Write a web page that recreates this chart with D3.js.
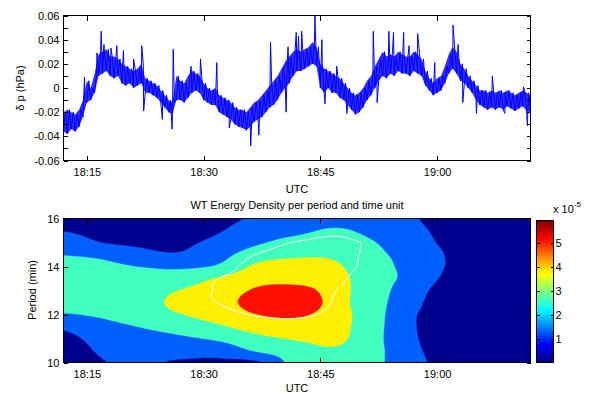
<!DOCTYPE html>
<html>
<head>
<meta charset="utf-8">
<script src="https://cdn.jsdelivr.net/npm/d3@7"></script>
<style>
  html, body { margin: 0; padding: 0; background: #fff; }
  svg { display: block; font-family: "Liberation Sans", Arial, Helvetica, sans-serif; }
</style>
</head>
<body>
<svg id="chart" width="591" height="394"></svg>
<script>
// ---- Pressure perturbation record (hPa) ----
const startTime = "18:12";
const endTime = "19:12";
const sampleStepMin = 0.5;           // envelope sampled every half minute
// lower and upper edge of the fluctuating trace in each half-minute bin
const pressureLow = [
  -0.036,-0.038,-0.034,-0.036,-0.032,-0.024,-0.012,-0.010,-0.004, 0.010,
   0.012, 0.014, 0.010, 0.008, 0.010, 0.004, 0.002, 0.004, 0.000, 0.002,
   0.004,-0.004,-0.004,-0.006,-0.008,-0.012,-0.016,-0.020,-0.022,-0.010,
  -0.010,-0.012,-0.008,-0.004,-0.002,-0.004,-0.010,-0.012,-0.014,-0.014,
  -0.020,-0.022,-0.024,-0.026,-0.030,-0.032,-0.033,-0.035,-0.032,-0.028,
  -0.026,-0.024,-0.020,-0.016,-0.014,-0.010,-0.004, 0.000, 0.004, 0.010,
   0.014, 0.014, 0.016, 0.018, 0.020, 0.018, 0.000,-0.004, 0.000,-0.004,
  -0.004,-0.008,-0.010,-0.014,-0.018,-0.022,-0.020,-0.016,-0.010,-0.006,
   0.000, 0.006, 0.010, 0.008, 0.012, 0.010, 0.014, 0.012, 0.012, 0.010,
   0.014, 0.012, 0.010, 0.002,-0.002,-0.006,-0.004,-0.002, 0.004, 0.012,
   0.016, 0.012, 0.006, 0.004, 0.000,-0.004,-0.010,-0.014,-0.016,-0.018,
  -0.016,-0.018,-0.016,-0.018,-0.015,-0.017,-0.019,-0.017,-0.015,-0.019,
  -0.020
];
const pressureHigh = [
  -0.020,-0.018,-0.020,-0.022,-0.018,-0.010, 0.006, 0.000, 0.012, 0.028,
   0.030, 0.032, 0.026, 0.026, 0.024, 0.020, 0.018, 0.016, 0.014, 0.016,
   0.020, 0.008, 0.006, 0.004, 0.002,-0.002,-0.006,-0.010,-0.012, 0.010,
   0.006, 0.004, 0.010, 0.014, 0.012, 0.010, 0.004, 0.000,-0.002, 0.000,
  -0.006,-0.008,-0.010,-0.012,-0.016,-0.018,-0.018,-0.020,-0.016,-0.012,
  -0.010,-0.006,-0.002, 0.002, 0.006, 0.010, 0.016, 0.022, 0.026, 0.030,
   0.032, 0.030, 0.032, 0.034, 0.038, 0.034, 0.020, 0.016, 0.014, 0.012,
   0.010, 0.008, 0.004, 0.000,-0.004,-0.006,-0.004, 0.000, 0.006, 0.010,
   0.018, 0.024, 0.030, 0.026, 0.028, 0.026, 0.030, 0.028, 0.026, 0.026,
   0.030, 0.028, 0.024, 0.014, 0.008, 0.004, 0.008, 0.010, 0.018, 0.028,
   0.034, 0.030, 0.020, 0.016, 0.010, 0.006, 0.002,-0.002,-0.002,-0.004,
  -0.002,-0.004,-0.002,-0.004,-0.002,-0.004,-0.006,-0.004,-0.002,-0.004,
  -0.006
];
// isolated spikes: [minutes after start, hPa]
const pressureSpikes = [
  [2.7, 0.009], [4.3, 0.029], [4.85, 0.047], [5.2, 0.036], [6.1, 0.033],
  [6.85, 0.035], [7.7, 0.031], [9.0, 0.024], [10.05, 0.035], [10.3, -0.019],
  [12.7, -0.026], [13.95, -0.034], [14.1, 0.032], [16.4, 0.018], [17.6, 0.024],
  [19.7, 0.021], [21.3, -0.033], [24.05, -0.048], [25.1, -0.039], [26.6, 0.038],
  [28.6, -0.020], [28.85, 0.034], [29.9, 0.046], [30.2, 0.043], [30.6, 0.047],
  [32.3, 0.060], [33.2, 0.040], [33.6, -0.013], [35.1, 0.018], [36.4, -0.021],
  [39.8, 0.047], [40.3, -0.012], [41.8, 0.047], [42.4, 0.046], [43.7, 0.046],
  [44.4, 0.035], [45.5, 0.045], [47.7, 0.021], [50.05, 0.052], [50.7, 0.036],
  [51.3, -0.012], [53.05, -0.021], [55.1, 0.010], [56.7, -0.021], [59.1, 0.001],
  [59.6, -0.031]
];
const pressureTickLabels = ["-0.06", "-0.04", "-0.02", "0", "0.02", "0.04", "0.06"];
const timeTickLabels = ["18:15", "18:30", "18:45", "19:00"];

// ---- Wavelet energy density (x 1e-5) ----
const energyTimes = [0, 5, 10, 15, 20, 25, 30, 35, 40, 45, 50, 55, 60];   // minutes after start
const energyPeriods = [16, 15.5, 15, 14.5, 14, 13.5, 13, 12.5, 12, 11.5, 11, 10.5, 10]; // min
const energyGrid = [
  [0.8, 0.5, 0.5, 0.5, 0.9, 1.35, 1.55, 1.8, 1.6, 1.3, 0.4, 0.3, 0.2],
  [1.15, 0.8, 0.7, 0.7, 1.12, 1.8, 2.1, 2.55, 2.0, 1.5, 0.7, 0.35, 0.25],
  [1.8, 1.18, 1.0, 1.0, 1.5, 2.25, 2.8, 3.1, 2.42, 1.7, 0.85, 0.4, 0.3],
  [2.35, 2.1, 1.5, 1.3, 2.0, 3.0, 3.4, 3.4, 2.6, 2.0, 1.0, 0.45, 0.3],
  [2.9, 2.7, 2.35, 2.2, 2.55, 3.85, 4.0, 3.75, 2.7, 2.1, 1.0, 0.45, 0.3],
  [3.15, 3.05, 2.95, 3.0, 3.7, 4.4, 4.21, 4.0, 2.75, 2.1, 0.75, 0.4, 0.25],
  [3.2, 3.2, 3.15, 3.62, 4.2, 4.95, 5.3, 4.1, 2.8, 1.8, 0.3, 0.3, 0.2],
  [3.0, 3.2, 3.2, 3.9, 4.35, 5.3, 5.93, 4.1, 2.8, 1.55, 0.2, 0.25, 0.2],
  [2.3, 2.6, 3.05, 3.55, 4.1, 4.8, 5.0, 4.1, 2.8, 1.3, 0.45, 0.25, 0.2],
  [1.4, 2.0, 2.45, 2.9, 3.45, 4.1, 4.3, 4.0, 2.75, 1.28, 0.48, 0.3, 0.2],
  [0.9, 1.6, 1.9, 2.2, 2.6, 3.3, 3.7, 3.85, 2.7, 1.32, 0.55, 0.3, 0.25],
  [0.6, 1.35, 1.5, 1.6, 1.7, 2.55, 3.1, 3.45, 2.7, 1.4, 0.7, 0.35, 0.25],
  [0.4, 1.15, 1.3, 1.1, 1.0, 1.1, 2.9, 3.1, 2.65, 1.5, 0.75, 0.4, 0.3]
];
// 95% significance level of the energy at each period
const signifLevel = [3.0, 2.95, 2.72, 2.95, 3.2, 3.7, 4.1, 4.3, 4.65, 5.0, 5.5, 6.0, 6.5];
const energyLevels = [1.2, 2.4, 3.6, 4.8];
const bandColors = ["#00008f", "#0060ff", "#40ffbf", "#ffef00", "#ff1000"];
const periodTicks = [10, 12, 14, 16];
const colorbarTicks = [1, 2, 3, 4, 5];

// ---- layout ----
const svg = d3.select("#chart");
const L = 63.5, R = 530.5;
const T1 = 15.5, B1 = 160.5, T2 = 218.5, B2 = 362.5;
const CBX = 536.5, CBW = 17, CBT = 220.5, CBB = 362.5;
const FONT = 11;

const toMin = s => { const [h, m] = s.split(":").map(Number); return h * 60 + m; };
const t0 = toMin(startTime);
const x = d3.scaleLinear().domain([t0, toMin(endTime)]).range([L, R]);
const yP = d3.scaleLinear().domain([-0.06, 0.06]).range([B1, T1]);
const yPer = d3.scaleLinear().domain([10, 16]).range([B2, T2]);
const eMax = d3.max(energyGrid.flat());
const cbY = d3.scaleLinear().domain([0, eMax]).range([CBB, CBT]);

const defs = svg.append("defs");
defs.append("clipPath").attr("id", "clipTop").append("rect")
  .attr("x", L).attr("y", T1).attr("width", R - L).attr("height", B1 - T1);
defs.append("clipPath").attr("id", "clipBot").append("rect")
  .attr("x", L).attr("y", T2).attr("width", R - L).attr("height", B2 - T2);

function styleAxis(g) {
  g.select(".domain").remove();
  g.attr("font-size", FONT).attr("font-family", null).attr("color", "#000");
  g.selectAll("line").attr("stroke", "#000").attr("shape-rendering", "crispEdges");
}

// ================= top panel: pressure trace =================
const series = [];
pressureLow.forEach((v, i) => {
  const m = t0 + i * sampleStepMin;
  series.push([m, v]);
  series.push([m + sampleStepMin / 2, pressureHigh[i]]);
});
pressureSpikes.forEach(([m, v]) => series.push([t0 + m, v]));
series.sort((a, b) => a[0] - b[0]);

const envelope = pressureLow.map((v, i) => ({ m: t0 + i * sampleStepMin, lo: v, hi: pressureHigh[i] }));
const topPlot = svg.append("g").attr("clip-path", "url(#clipTop)");
// dense core of the fluctuating trace
topPlot.append("path")
  .datum(envelope)
  .attr("fill", "#0000ff")
  .attr("fill-opacity", 0.82)
  .attr("d", d3.area().x(d => x(d.m)).y0(d => yP(d.lo)).y1(d => yP(d.hi)));
// trace itself, zig-zagging through the bin extremes and spikes
topPlot.append("path")
  .datum(series)
  .attr("fill", "none")
  .attr("stroke", "#0000ff")
  .attr("stroke-width", 1)
  .attr("d", d3.line().x(d => x(d[0])).y(d => yP(d[1])));

const pTicks = pressureTickLabels.map(Number);
const pMinor = d3.range(-6, 7).map(k => k / 100);
const timeTicks = timeTickLabels.map(toMin);

svg.append("g").attr("transform", `translate(${L},0)`)
  .call(d3.axisLeft(yP).tickValues(pMinor).tickSize(-4).tickFormat(""))
  .call(styleAxis);
svg.append("g").attr("transform", `translate(${L},0)`)
  .call(d3.axisLeft(yP).tickValues(pTicks).tickSize(-4).tickPadding(4)
    .tickFormat((d, i) => pressureTickLabels[i]))
  .call(styleAxis);
svg.append("g").attr("transform", `translate(${R},0)`)
  .call(d3.axisRight(yP).tickValues(pMinor).tickSize(-4).tickFormat(""))
  .call(styleAxis);
svg.append("g").attr("transform", `translate(0,${B1})`)
  .call(d3.axisBottom(x).tickValues(timeTicks).tickSize(-5).tickPadding(8)
    .tickFormat((d, i) => timeTickLabels[i]))
  .call(styleAxis);
svg.append("g").attr("transform", `translate(0,${T1})`)
  .call(d3.axisTop(x).tickValues(timeTicks).tickSize(-5).tickFormat(""))
  .call(styleAxis);
svg.append("rect").attr("x", L).attr("y", T1).attr("width", R - L).attr("height", B1 - T1)
  .attr("fill", "none").attr("stroke", "#000").attr("shape-rendering", "crispEdges");

svg.append("text").attr("x", (L + R) / 2).attr("y", 192.5).attr("text-anchor", "middle")
  .attr("font-size", FONT).text("UTC");
svg.append("text").attr("transform", "translate(23.5,88) rotate(-90)").attr("text-anchor", "middle")
  .attr("font-size", FONT).text("δ p (hPa)");

// ================= bottom panel: wavelet energy =================
const nx = 241, ny = 121;
const nC = energyTimes.length, nR = energyPeriods.length;

function catmull(p0, p1, p2, p3, t) {
  return p1 + 0.5 * t * (p2 - p0 + t * (2 * p0 - 5 * p1 + 4 * p2 - p3 + t * (3 * (p1 - p2) + p3 - p0)));
}
function sampleGrid(gx, gy) {
  const ix = Math.min(Math.floor(gx), nC - 2), iy = Math.min(Math.floor(gy), nR - 2);
  const fx = gx - ix, fy = gy - iy;
  const at = (r, c) => energyGrid[Math.max(0, Math.min(nR - 1, r))][Math.max(0, Math.min(nC - 1, c))];
  const rows = [];
  for (let m = -1; m <= 2; m++) {
    rows.push(catmull(at(iy + m, ix - 1), at(iy + m, ix), at(iy + m, ix + 1), at(iy + m, ix + 2), fx));
  }
  return catmull(rows[0], rows[1], rows[2], rows[3], fy);
}
const sigAt = gy => {
  const i = Math.min(Math.floor(gy), nR - 2), f = gy - i;
  return signifLevel[i] * (1 - f) + signifLevel[i + 1] * f;
};

const energy = new Float64Array(nx * ny);
const ratio = new Float64Array(nx * ny);
for (let j = 0; j < ny; j++) {
  const gy = j / (ny - 1) * (nR - 1);
  const s = sigAt(gy);
  for (let i = 0; i < nx; i++) {
    const gx = i / (nx - 1) * (nC - 1);
    const v = sampleGrid(gx, gy);
    energy[j * nx + i] = v;
    ratio[j * nx + i] = v / s;
  }
}

const tFirst = energyTimes[0], tLast = energyTimes[nC - 1];
const pFirst = energyPeriods[0], pLast = energyPeriods[nR - 1];
const gridProj = d3.geoTransform({
  point(cx, cy) {
    const t = tFirst + (tLast - tFirst) * (cx - 0.5) / (nx - 1);
    const p = pFirst + (pLast - pFirst) * (cy - 0.5) / (ny - 1);
    this.stream.point(x(t0 + t), yPer(p));
  }
});
const gridPath = d3.geoPath(gridProj);

const plot2 = svg.append("g").attr("clip-path", "url(#clipBot)");
plot2.append("rect").attr("x", L).attr("y", T2).attr("width", R - L).attr("height", B2 - T2)
  .attr("fill", bandColors[0]);
const bands = d3.contours().size([nx, ny]).thresholds(energyLevels)(energy);
plot2.selectAll("path.band").data(bands).join("path")
  .attr("class", "band")
  .attr("d", gridPath)
  .attr("fill", (d, i) => bandColors[i + 1])
  .attr("stroke", (d, i) => bandColors[i + 1])
  .attr("stroke-width", 0.5);
const sig = d3.contours().size([nx, ny]).thresholds([1])(ratio);
plot2.append("path").datum(sig[0]).attr("d", gridPath)
  .attr("fill", "none").attr("stroke", "#fff").attr("stroke-width", 1);

svg.append("g").attr("transform", `translate(${L},0)`)
  .call(d3.axisLeft(yPer).tickValues(periodTicks).tickSize(-4).tickPadding(4).tickFormat(d3.format("d")))
  .call(styleAxis);
svg.append("g").attr("transform", `translate(${R},0)`)
  .call(d3.axisRight(yPer).tickValues(periodTicks).tickSize(-4).tickFormat(""))
  .call(styleAxis);
svg.append("g").attr("transform", `translate(0,${B2})`)
  .call(d3.axisBottom(x).tickValues(timeTicks).tickSize(-5).tickPadding(8)
    .tickFormat((d, i) => timeTickLabels[i]))
  .call(styleAxis);
svg.append("g").attr("transform", `translate(0,${T2})`)
  .call(d3.axisTop(x).tickValues(timeTicks).tickSize(-5).tickFormat(""))
  .call(styleAxis);
svg.append("rect").attr("x", L).attr("y", T2).attr("width", R - L).attr("height", B2 - T2)
  .attr("fill", "none").attr("stroke", "#000").attr("shape-rendering", "crispEdges");

svg.append("text").attr("x", (L + R) / 2).attr("y", 208.5).attr("text-anchor", "middle")
  .attr("font-size", FONT).text("WT Energy Density per period and time unit");
svg.append("text").attr("x", (L + R) / 2).attr("y", 392).attr("text-anchor", "middle")
  .attr("font-size", FONT).text("UTC");
svg.append("text").attr("transform", "translate(36,290) rotate(-90)").attr("text-anchor", "middle")
  .attr("font-size", FONT).text("Period (min)");

// ---- colorbar (jet) ----
function jet(v) {
  const c = f => Math.round(255 * Math.max(0, Math.min(1, 1.5 - Math.abs(4 * v - f))));
  return `rgb(${c(3)},${c(2)},${c(1)})`;
}
const grad = defs.append("linearGradient").attr("id", "jetGrad")
  .attr("x1", 0).attr("y1", 1).attr("x2", 0).attr("y2", 0);
d3.range(0, 64).forEach(k => {
  grad.append("stop").attr("offset", k / 63).attr("stop-color", jet(k / 63));
});
svg.append("rect").attr("x", CBX).attr("y", CBT).attr("width", CBW).attr("height", CBB - CBT)
  .attr("fill", "url(#jetGrad)").attr("stroke", "#000").attr("shape-rendering", "crispEdges");
svg.append("g").attr("transform", `translate(${CBX + CBW},0)`)
  .call(d3.axisRight(cbY).tickValues(colorbarTicks).tickSize(-3).tickPadding(2).tickFormat(d3.format("d")))
  .call(styleAxis);
svg.append("g").attr("transform", `translate(${CBX},0)`)
  .call(d3.axisLeft(cbY).tickValues(colorbarTicks).tickSize(-3).tickFormat(""))
  .call(styleAxis);
const expo = svg.append("text").attr("x", 553).attr("y", 213).attr("font-size", FONT);
expo.append("tspan").text("x 10");
expo.append("tspan").attr("dy", -6).attr("font-size", 8).text("-5");
</script>
</body>
</html>
